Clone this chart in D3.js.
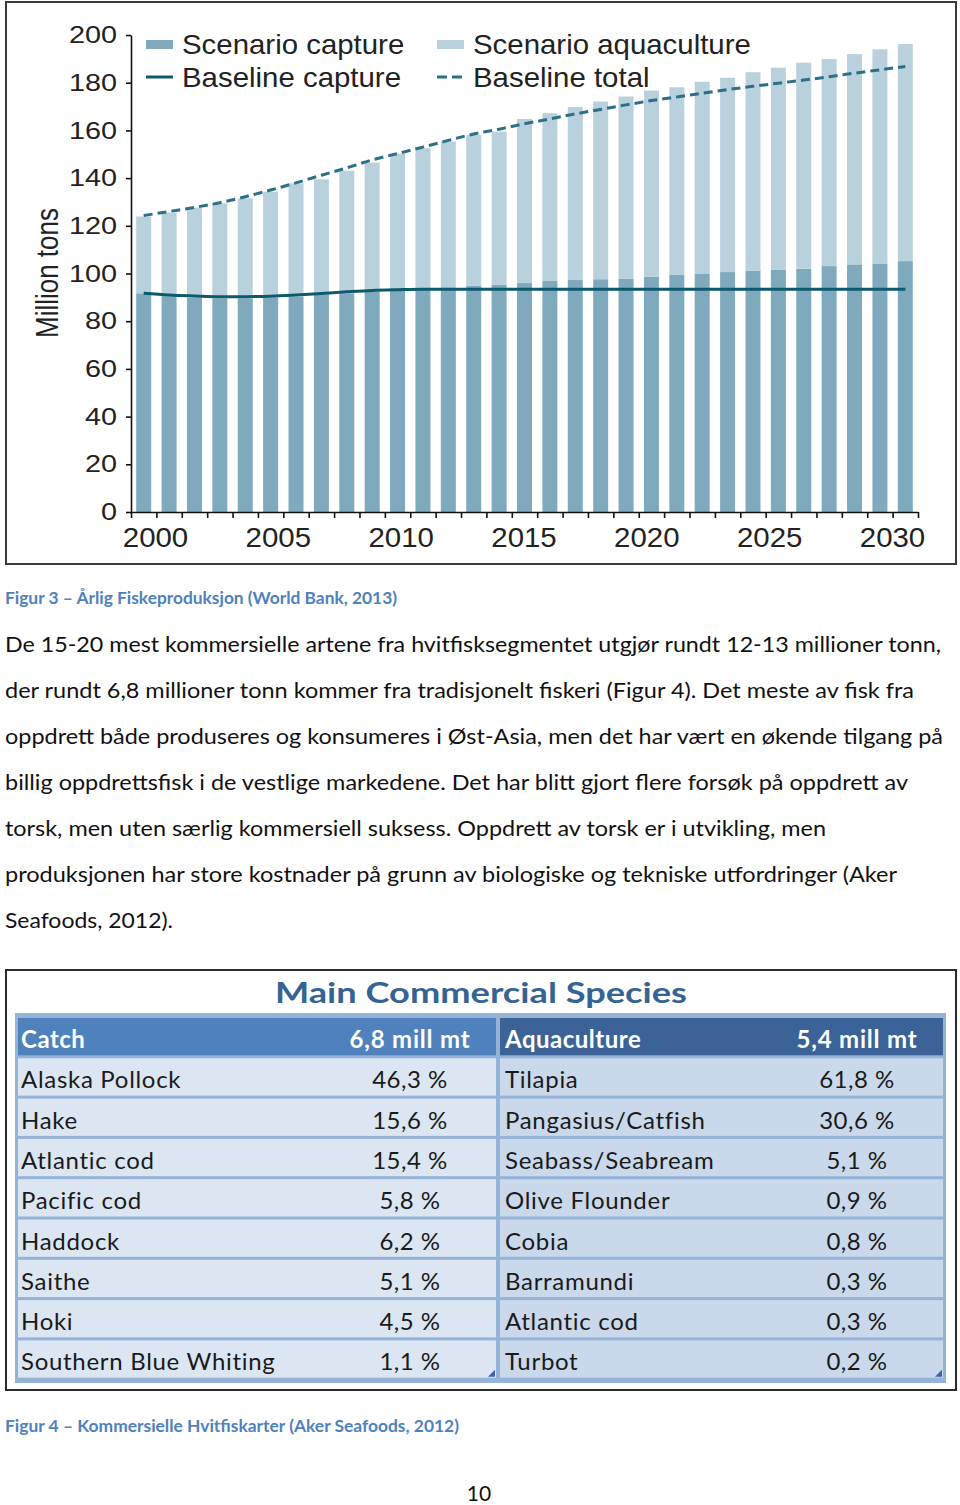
<!DOCTYPE html>
<html>
<head>
<meta charset="utf-8">
<script src="https://cdn.jsdelivr.net/npm/d3@7/dist/d3.min.js"></script>
<style>
  body { margin: 0; background: #fff; }
  svg { display: block; }
</style>
</head>
<body>
<svg id="page" width="960" height="1505"></svg>
<script>
// ---- chart data ----
var years = [2000, 2001, 2002, 2003, 2004, 2005, 2006, 2007, 2008, 2009, 2010,
  2011, 2012, 2013, 2014, 2015, 2016, 2017, 2018, 2019, 2020,
  2021, 2022, 2023, 2024, 2025, 2026, 2027, 2028, 2029, 2030];

var scenarioCapture = [91.7, 90.5, 89.8, 89.6, 89.6, 89.9, 90.3, 91.2, 91.7, 92.4, 93.3,
  93.7, 94.2, 94.8, 95.2, 96.0, 96.9, 97.3, 97.6, 97.8, 98.7,
  99.4, 99.8, 100.6, 101.2, 101.5, 102.0, 103.1, 103.8, 104.2, 105.2];

var scenarioAquaculture = [32.2, 35.0, 37.8, 39.8, 41.9, 44.4, 47.5, 48.3, 51.4, 54.1, 57.0,
  58.8, 61.1, 63.3, 64.3, 68.8, 70.3, 72.5, 74.5, 76.4, 78.0,
  78.7, 80.6, 81.5, 83.2, 84.8, 86.4, 86.8, 88.2, 89.8, 91.0];

var baselineCapture = [91.7, 91.0, 90.6, 90.3, 90.3, 90.5, 91.0, 91.6, 92.3, 92.9, 93.2,
  93.4, 93.4, 93.4, 93.4, 93.4, 93.4, 93.4, 93.4, 93.4, 93.4,
  93.4, 93.4, 93.4, 93.4, 93.4, 93.4, 93.4, 93.4, 93.4, 93.4];

var baselineTotal = [124.3, 126.0, 127.7, 129.7, 132.2, 135.0, 138.0, 141.2, 144.3, 147.6, 150.3,
  153.0, 155.8, 158.5, 160.5, 162.8, 164.8, 166.9, 168.8, 170.7, 172.5,
  174.0, 175.6, 177.1, 178.5, 179.8, 181.1, 182.5, 184.0, 185.4, 186.8];

var yTicks = [0, 20, 40, 60, 80, 100, 120, 140, 160, 180, 200];
var xLabelYears = [2000, 2005, 2010, 2015, 2020, 2025, 2030];
var yTitle = "Million tons";
var legendLabels = ["Scenario capture", "Baseline capture", "Scenario aquaculture", "Baseline total"];

// ---- page text ----
var caption3 = "Figur 3 \u2013 \u00c5rlig Fiskeproduksjon (World Bank, 2013)";
var paragraphLines = [
  "De 15-20 mest kommersielle artene fra hvitfisksegmentet utgj\u00f8r rundt 12-13 millioner tonn,",
  "der rundt 6,8 millioner tonn kommer fra tradisjonelt fiskeri (Figur 4). Det meste av fisk fra",
  "oppdrett b\u00e5de produseres og konsumeres i \u00d8st-Asia, men det har v\u00e6rt en \u00f8kende tilgang p\u00e5",
  "billig oppdrettsfisk i de vestlige markedene. Det har blitt gjort flere fors\u00f8k p\u00e5 oppdrett av",
  "torsk, men uten s\u00e6rlig kommersiell suksess. Oppdrett av torsk er i utvikling, men",
  "produksjonen har store kostnader p\u00e5 grunn av biologiske og tekniske utfordringer (Aker",
  "Seafoods, 2012)."
];
var paragraphEnds = [941, 914, 943, 908, 826, 897, 173];
var caption4 = "Figur 4 \u2013 Kommersielle Hvitfiskarter (Aker Seafoods, 2012)";
var pageNumber = "10";

// ---- table data ----
var tableTitle = "Main Commercial Species";
var catchHeader = ["Catch", "6,8 mill mt"];
var aquaHeader = ["Aquaculture", "5,4 mill mt"];
var catchSpecies = ["Alaska Pollock", "Hake", "Atlantic cod", "Pacific cod", "Haddock", "Saithe", "Hoki", "Southern Blue Whiting"];
var catchShare = ["46,3 %", "15,6 %", "15,4 %", "5,8 %", "6,2 %", "5,1 %", "4,5 %", "1,1 %"];
var aquaSpecies = ["Tilapia", "Pangasius/Catfish", "Seabass/Seabream", "Olive Flounder", "Cobia", "Barramundi", "Atlantic cod", "Turbot"];
var aquaShare = ["61,8 %", "30,6 %", "5,1 %", "0,9 %", "0,8 %", "0,3 %", "0,3 %", "0,2 %"];

var svg = d3.select("#page");

// stretch a text selection horizontally by a factor (the original raster is wider than Helvetica)
function stretch(sel, f) {
  sel.each(function () {
    var w = this.getComputedTextLength();
    d3.select(this).attr("textLength", w * f).attr("lengthAdjust", "spacingAndGlyphs");
  });
}

// =================== Figure 3 ===================
svg.append("rect")
  .attr("x", 6).attr("y", 2).attr("width", 950).attr("height", 562)
  .attr("fill", "none").attr("stroke", "#3a3a3a").attr("stroke-width", 2);

var x = d3.scaleLinear().domain([1999.5, 2030.5]).range([131, 918]);
var xLab = d3.scaleLinear().domain([2000, 2030]).range([155, 892]);
var y = d3.scaleLinear().domain([0, 200]).range([512, 35]);
var barW = 15;

var chart = svg.append("g");

// capture bars
chart.selectAll(".cap").data(years).enter().append("rect")
  .attr("x", function (d) { return x(d) - barW / 2; })
  .attr("width", barW)
  .attr("y", function (d, i) { return y(scenarioCapture[i]); })
  .attr("height", function (d, i) { return y(0) - y(scenarioCapture[i]); })
  .attr("fill", "#7fa9bc");

// aquaculture stacked on top
chart.selectAll(".aqua").data(years).enter().append("rect")
  .attr("x", function (d) { return x(d) - barW / 2; })
  .attr("width", barW)
  .attr("y", function (d, i) { return y(scenarioCapture[i] + scenarioAquaculture[i]); })
  .attr("height", function (d, i) { return y(scenarioCapture[i]) - y(scenarioCapture[i] + scenarioAquaculture[i]); })
  .attr("fill", "#b9d1dc");

var lineCap = d3.line()
  .x(function (d) { return x(d); })
  .y(function (d, i) { return y(baselineCapture[i]); })
  .curve(d3.curveMonotoneX);
var lineTot = d3.line()
  .x(function (d) { return x(d); })
  .y(function (d, i) { return y(baselineTotal[i]); })
  .curve(d3.curveMonotoneX);

chart.append("path").datum(years)
  .attr("d", lineTot)
  .attr("fill", "none").attr("stroke", "#2b7087").attr("stroke-width", 3)
  .attr("stroke-dasharray", "9,5");
chart.append("path").datum(years)
  .attr("d", lineCap)
  .attr("fill", "none").attr("stroke", "#0d5a6e").attr("stroke-width", 3);

// axes
var yAxis = chart.append("g")
  .attr("transform", "translate(" + x.range()[0] + ",0)")
  .call(d3.axisLeft(y).tickValues(yTicks).tickSize(5).tickSizeOuter(0).tickPadding(9));
yAxis.selectAll("text")
  .style("font-family", "'Liberation Sans', Arial, sans-serif")
  .style("font-size", "24px").attr("fill", "#222");
stretch(yAxis.selectAll("text"), 1.2);

var edges = years.map(function (d) { return d - 0.5; }).concat([years[years.length - 1] + 0.5]);
var xAxis = chart.append("g")
  .attr("transform", "translate(0," + y(0) + ")")
  .call(d3.axisBottom(x).tickValues(edges).tickSize(6).tickSizeOuter(0).tickFormat(""));

var xLabels = chart.append("g")
  .attr("transform", "translate(0," + y(0) + ")")
  .call(d3.axisBottom(xLab).tickValues(xLabelYears).tickSize(0).tickPadding(16).tickFormat(d3.format("d")));
xLabels.select(".domain").remove();
xLabels.selectAll("text")
  .style("font-family", "'Liberation Sans', Arial, sans-serif")
  .style("font-size", "27px").attr("fill", "#222");
stretch(xLabels.selectAll("text"), 1.09);

chart.selectAll(".domain, .tick line").attr("stroke", "#111").attr("stroke-width", 1.6);

chart.append("text")
  .attr("transform", "translate(58,273) rotate(-90)")
  .attr("text-anchor", "middle")
  .style("font-family", "'Liberation Sans', Arial, sans-serif")
  .style("font-size", "31px").attr("fill", "#222")
  .attr("textLength", 130).attr("lengthAdjust", "spacingAndGlyphs")
  .text(yTitle);

// legend
var legend = chart.append("g").style("font-family", "'Liberation Sans', Arial, sans-serif")
  .style("font-size", "28px");
var legPos = [[146, 44], [146, 77], [437, 44], [437, 77]];
legendLabels.forEach(function (lab, i) {
  var p = legPos[i];
  if (i === 0 || i === 2) {
    legend.append("rect").attr("x", p[0]).attr("y", p[1] - 4).attr("width", 27).attr("height", 9)
      .attr("fill", i === 0 ? "#7fa9bc" : "#b9d1dc");
  } else {
    legend.append("line").attr("x1", p[0]).attr("x2", p[0] + 27).attr("y1", p[1]).attr("y2", p[1])
      .attr("stroke", i === 1 ? "#0d5a6e" : "#2b7087").attr("stroke-width", 3)
      .attr("stroke-dasharray", i === 1 ? null : "10,5");
  }
  var t = legend.append("text").attr("x", p[0] + 36).attr("y", p[1] + 10).attr("fill", "#222").text(lab);
  stretch(t, 1.05);
});

// =================== body text ===================
var bodyFont = "Lato, 'Noto Sans', sans-serif";
var captionColor = "#4f81bd";

svg.append("text").attr("x", 5).attr("y", 604)
  .style("font-family", bodyFont).style("font-size", "17.5px").style("font-weight", "bold")
  .attr("fill", captionColor)
  .attr("textLength", 392).attr("lengthAdjust", "spacingAndGlyphs")
  .text(caption3);

svg.selectAll(".para").data(paragraphLines).enter().append("text")
  .attr("x", 5)
  .attr("y", function (d, i) { return 652 + i * 46; })
  .style("font-family", bodyFont).style("font-size", "21px")
  .attr("fill", "#111")
  .attr("textLength", function (d, i) { return paragraphEnds[i] - 5; })
  .attr("lengthAdjust", "spacingAndGlyphs")
  .text(function (d) { return d; });

// =================== Figure 4 (table) ===================
svg.append("rect")
  .attr("x", 6).attr("y", 970).attr("width", 950).attr("height", 420)
  .attr("fill", "#fff").attr("stroke", "#2a2a2a").attr("stroke-width", 2);

svg.append("text").attr("x", 481).attr("y", 1003)
  .attr("text-anchor", "middle")
  .style("font-family", bodyFont).style("font-size", "29px").style("font-weight", "bold")
  .attr("fill", "#356393")
  .attr("textLength", 412).attr("lengthAdjust", "spacingAndGlyphs")
  .text(tableTitle);

svg.append("rect").attr("x", 15).attr("y", 1013).attr("width", 931).attr("height", 370)
  .attr("fill", "#95b3d7");

var rows = d3.scaleBand().domain(d3.range(catchSpecies.length + 1))
  .range([1016.5, 1379.2]).paddingInner(0.075).paddingOuter(0.0375);

var cols = [
  { x0: 18, x1: 496, nameX: 21, valX: 410, head: catchHeader, names: catchSpecies, vals: catchShare, headFill: "#4f81bd", fill: "#dce6f2" },
  { x0: 500, x1: 943, nameX: 505, valX: 857, head: aquaHeader, names: aquaSpecies, vals: aquaShare, headFill: "#3b6397", fill: "#c9d8eb" }
];

var table = svg.append("g").style("font-family", bodyFont).style("font-size", "24px");

cols.forEach(function (c) {
  table.append("rect").attr("x", c.x0).attr("y", rows(0)).attr("width", c.x1 - c.x0)
    .attr("height", rows.bandwidth()).attr("fill", c.headFill);
  table.append("text").attr("x", c.nameX).attr("y", rows(0) + 30)
    .style("font-weight", "bold").style("letter-spacing", "0.5px").attr("fill", "#fff").text(c.head[0]);
  table.append("text").attr("x", c.valX).attr("y", rows(0) + 30).attr("text-anchor", "middle")
    .style("font-weight", "bold").style("letter-spacing", "0.8px").attr("fill", "#fff").text(c.head[1]);

  var g = table.selectAll(null).data(c.names).enter().append("g")
    .attr("transform", function (d, i) { return "translate(0," + rows(i + 1) + ")"; });
  g.append("rect").attr("x", c.x0).attr("width", c.x1 - c.x0)
    .attr("height", rows.bandwidth()).attr("fill", c.fill);
  g.append("text").attr("x", c.nameX).attr("y", 30).attr("fill", "#1a1a1a")
    .style("letter-spacing", "0.7px").text(function (d) { return d; });
  g.append("text").attr("x", c.valX).attr("y", 30).attr("text-anchor", "middle").attr("fill", "#1a1a1a")
    .style("letter-spacing", "0.5px")
    .text(function (d, i) { return c.vals[i]; });

  // little resize corner mark
  var last = rows(catchSpecies.length) + rows.bandwidth();
  table.append("path")
    .attr("d", "M" + (c.x1 - 1) + "," + (last - 8) + "L" + (c.x1 - 1) + "," + (last - 1) + "L" + (c.x1 - 8) + "," + (last - 1) + "Z")
    .attr("fill", "#3b5fb5");
});

svg.append("text").attr("x", 5).attr("y", 1432)
  .style("font-family", bodyFont).style("font-size", "17.5px").style("font-weight", "bold")
  .attr("fill", captionColor)
  .attr("textLength", 454).attr("lengthAdjust", "spacingAndGlyphs")
  .text(caption4);

svg.append("text").attr("x", 479).attr("y", 1501).attr("text-anchor", "middle")
  .style("font-family", bodyFont).style("font-size", "21px").attr("fill", "#111")
  .text(pageNumber);
</script>
</body>
</html>
